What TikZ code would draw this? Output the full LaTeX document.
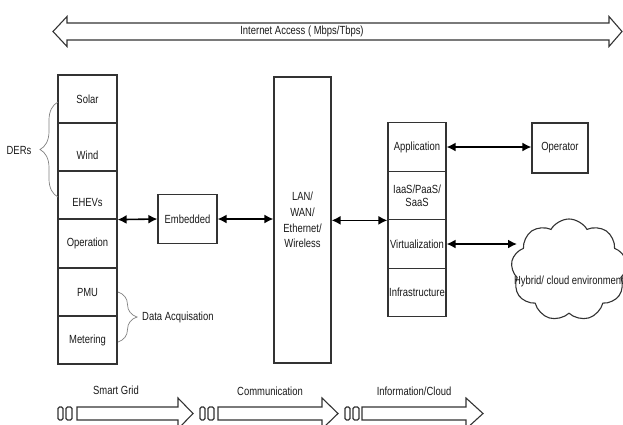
\documentclass[tikz,border=0pt]{standalone}
\usepackage{fontspec}
\setmainfont{Liberation Sans}[FakeStretch=0.8]
\usetikzlibrary{arrows.meta,shapes.symbols,decorations.pathreplacing}
\begin{document}
\begin{tikzpicture}[x=1pt,y=-1pt,
  every node/.style={font=\fontsize{11.8}{13}\selectfont, text=black!90, inner sep=1pt},
  cell/.style={draw=black!80, line width=1.2pt, minimum width=59pt, minimum height=48pt, inner sep=0pt},
  rcell/.style={draw=black!80, line width=1.2pt, minimum width=58pt, minimum height=48.5pt, inner sep=0pt, align=center},
  box/.style={draw=black!80, line width=1.2pt, inner sep=0pt, align=center},
  shp/.style={draw=black!80, line width=1.1pt},
  dbl/.style={line width=1.6pt, {Latex[length=9pt,width=9pt]}-{Latex[length=9pt,width=9pt]}},
  brc/.style={draw=black!50, line width=0.7pt, decorate, decoration={brace, amplitude=#1}},
  lbl/.style={inner sep=0pt}
]
\useasboundingbox (0,0) rectangle (623,424);

% top internet access arrow
\draw[shp] (53,31.5) -- (67,16.5) -- (67,23) -- (609,23) -- (609,16.5) -- (622,31.5)
  -- (609,46.5) -- (609,40) -- (67,40) -- (67,46.5) -- cycle;
\node[lbl] (inet) at (302,31.5) {Internet Access ( Mbps/Tbps)};

% left column
\node[cell] (solar) at (87.5,99) {Solar};
\node[cell] (wind) at (87.5,147) {};
\node[lbl] (windt) at (87.5,155) {Wind};
\node[cell] (ehevs) at (87.5,195) {};
\node[lbl] (ehevst) at (87.5,202) {EHEVs};
\node[cell] (oper) at (87.5,243.5) {Operation};
\node[cell] (pmu) at (87.5,292) {PMU};
\node[cell] (meter) at (87.5,340) {Metering};

% braces
\draw[brc=18pt] (58,197) -- (58,102);
\node[lbl] (ders) at (19,150) {DERs};
\draw[brc=19pt] (118,292) -- (118,342);
\node[lbl, anchor=west] (daq) at (142,317) {Data Acquisation};

% embedded
\node[box, minimum width=59pt, minimum height=49pt] (emb) at (187.5,219) {Embedded};
\draw[dbl] (ehevs.south east) -- (emb.west);

% LAN
\node[box, minimum width=57pt, minimum height=286pt, font=\fontsize{11.8}{15.7}\selectfont] (lan) at (302.5,220) {LAN/\\WAN/\\Ethernet/\\Wireless};
\draw[dbl] (emb.east) -- (emb.east -| lan.west);

% right column
\node[rcell] (app) at (417,147) {Application};
\node[rcell, font=\fontsize{11.8}{13}\selectfont] (iaas) at (417,195.5) {IaaS/PaaS/\\SaaS};
\node[rcell] (virt) at (417,244) {Virtualization};
\node[rcell] (infra) at (417,292.5) {Infrastructure};
\draw[dbl] (iaas.south west -| lan.east) -- (iaas.south west);

% operator
\node[box, minimum width=56pt, minimum height=50pt] (op) at (560,148) {Operator};
\draw[dbl] (app.east) -- (app.east -| op.west);

% cloud
\node[cloud, draw=black!80, line width=1.1pt, cloud puffs=9, cloud puff arc=120,
  minimum width=116pt, minimum height=102pt, inner sep=0pt] (cloud) at (569,270) {};
\node[lbl] (cloudt) at (569,281) {Hybrid/ cloud environment};
\coordinate (cin) at (517,244);
\draw[dbl] (virt.east) -- (cin);

% bottom arrows
\foreach \rs/\bs/\hb/\tp in {58/77/178/193, 200/218/322/338, 345/362/466/483}{
  \draw[shp, rounded corners=1.5pt] (\rs,407) rectangle ({\rs+5},420);
  \draw[shp, rounded corners=1.5pt] ({\rs+8},407) rectangle ({\rs+14},420);
  \draw[shp] (\bs,407) -- (\hb,407) -- (\hb,398) -- (\tp,413.5) -- (\hb,429)
    -- (\hb,420) -- (\bs,420) -- cycle;
}
\node[lbl] (sg) at (116,390) {Smart Grid};
\node[lbl] (comm) at (270,391) {Communication};
\node[lbl] (info) at (414,391) {Information/Cloud};
\end{tikzpicture}
\end{document}
